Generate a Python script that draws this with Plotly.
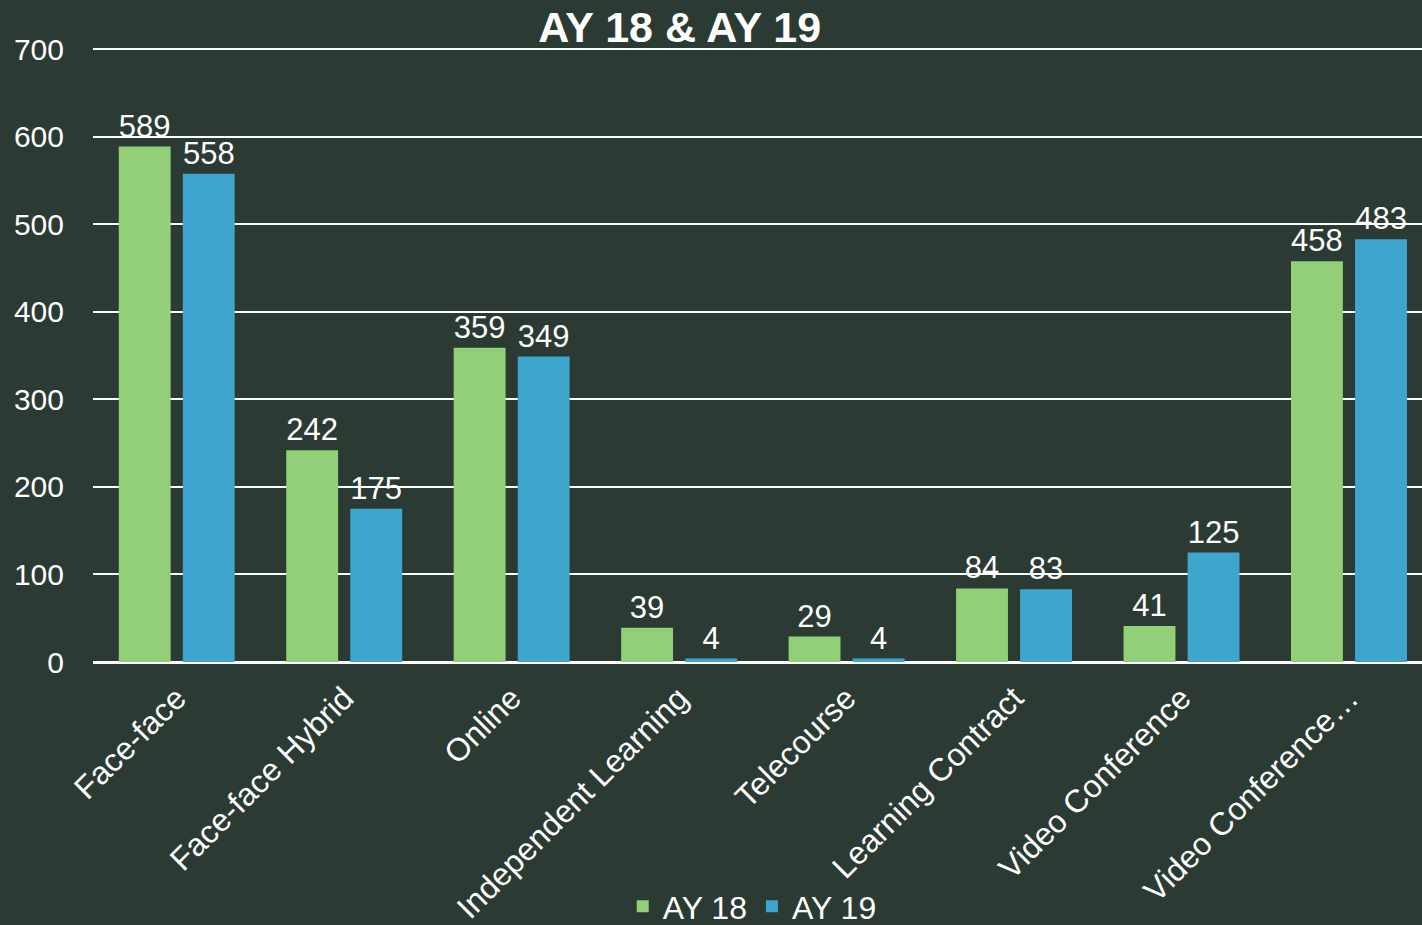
import plotly.graph_objects as go

categories = ['Face-face', 'Face-face Hybrid', 'Online', 'Independent Learning',
              'Telecourse', 'Learning Contract', 'Video Conference', 'Video Conference…']
ay18 = [589, 242, 359, 39, 29, 84, 41, 458]
ay19 = [558, 175, 349, 4, 4, 83, 125, 483]

bg = '#2b3a32'
font = 'Liberation Sans, Arial, sans-serif'

fig = go.Figure()
fig.add_trace(go.Bar(
    x=categories, y=ay18, name='AY 18',
    marker=dict(color='#92cf78', line=dict(width=0)),
    text=ay18, textposition='outside', cliponaxis=False,
    textfont=dict(size=31, color='white', family=font),
))
fig.add_trace(go.Bar(
    x=categories, y=ay19, name='AY 19',
    marker=dict(color='#3ea5cc', line=dict(width=0)),
    text=ay19, textposition='outside', cliponaxis=False,
    textfont=dict(size=31, color='white', family=font),
))

fig.update_layout(
    width=1422, height=925,
    paper_bgcolor=bg, plot_bgcolor=bg,
    font=dict(family=font, color='white', size=29),
    title=dict(text='<b>AY 18 & AY 19</b>', x=0.478, xref='container', xanchor='center',
               y=0.971, yanchor='middle', font=dict(size=43, color='white', family=font)),
    margin=dict(l=93, r=0, t=45, b=263, autoexpand=False),
    barmode='group', bargap=0.235, bargroupgap=0.19,
    legend=dict(orientation='h', x=0.529, xref='container', xanchor='center',
                y=0.02, yref='container', yanchor='middle',
                font=dict(size=32, color='white'), itemwidth=30, traceorder='normal'),
)
fig.update_yaxes(range=[0, 705], tickvals=[0, 100, 200, 300, 400, 500, 600, 700],
                 showgrid=True, gridcolor='white', gridwidth=2,
                 zeroline=True, zerolinecolor='white', zerolinewidth=3,
                 showline=False, ticks='', ticklabelstandoff=28, automargin=False,
                 tickfont=dict(size=30, color='white'))
fig.update_xaxes(range=[-0.5, 7.436], tickangle=-45, showline=False, ticks='', showgrid=False,
                 automargin=False, ticklabelstandoff=10,
                 tickfont=dict(size=32, color='white'))

fig.write_html('out.html', config={'displayModeBar': False},
               post_script="document.body.style.margin='0';")
